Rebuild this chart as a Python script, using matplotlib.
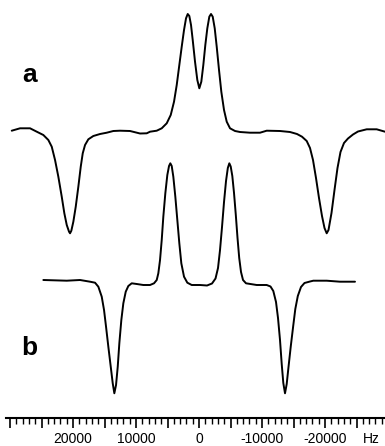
import numpy as np
import matplotlib
matplotlib.use("Agg")
import matplotlib.pyplot as plt
from matplotlib.ticker import FixedLocator, FuncFormatter

plt.rcParams['font.family'] = ['Liberation Sans', 'DejaVu Sans']
plt.rcParams['axes.unicode_minus'] = False

# ---- spectrum a (Hz, intensity in arbitrary units, baseline = 0) ----
a_hz = [29725, 28407, 26820, 25757, 24710, 23916, 23377, 22853, 22330, 21790,
        21377, 20996, 20631, 20472, 20266, 19948, 19568, 19155, 18774, 18457,
        18092, 17568, 16775, 15711, 14648, 13601, 12537, 10950, 9363, 8300,
        7776, 6713, 5920, 5126, 4491, 3968, 3539, 3126, 2746, 2381,
        2063, 1793, 1539, 1270, 1000, 635, 270, -48, -365, -682,
        -1000, -1317, -1635, -1904, -2174, -2492, -2809, -3174, -3539, -3968,
        -4396, -4920, -5713, -6507, -8094, -9681, -10744, -12855, -14442, -15553,
        -16346, -17092, -17616, -18092, -18568, -19044, -19520, -19917, -20266, -20552,
        -21028, -21504, -21980, -22456, -23012, -23646, -24440, -25233, -26614, -28201,
        -29518]
a_int = [-0.7, 1.7, 1.7, -1.7, -5, -10, -16.7, -30, -46.7, -66.7,
         -83.3, -95, -101.7, -103.3, -100.7, -91.7, -76.7, -56.7, -36.7, -23.3,
         -15, -9.3, -6, -4, -2.7, -1, -0.7, -1, -3.5, -3.3,
         -1.7, -0.7, 1.7, 6.7, 15, 28.3, 45, 65, 83.3, 100,
         111.7, 116, 114, 105, 90, 68.3, 50, 41.7, 48.3, 65,
         85, 101.7, 113.3, 116, 113.3, 101.7, 83.3, 60, 38.3, 20,
         8.3, 1.7, -1, -2, -2.7, -2.7, -0.7, -1, -2, -4,
         -6.7, -11, -18, -30, -48, -68, -86, -98, -103.3, -100,
         -83, -60, -38, -22, -13, -8.5, -4.5, -1.5, 0.7, 0.7,
         -1.7]

# ---- spectrum b ----
b_hz = [24710, 20996, 18885, 17298, 16505, 15981, 15442, 15077, 14759, 14394,
        14013, 13696, 13442, 13172, 12902, 12648, 12331, 12014, 11633, 11220,
        10681, 9887, 8840, 7776, 7142, 6713, 6459, 6189, 5920, 5666,
        5348, 5031, 4761, 4555, 4333, 4079, 3761, 3444, 3126, 2809,
        2381, 1857, 1158, -159, -1270, -2063, -2619, -3015, -3333, -3650,
        -3968, -4285, -4571, -4809, -5031, -5285, -5555, -5840, -6110, -6380,
        -6665, -6983, -7459, -9157, -10744, -11347, -11791, -12220, -12537, -12855,
        -13125, -13379, -13648, -13918, -14204, -14569, -14950, -15283, -15680, -16187,
        -16743, -17616, -18140, -20266, -22377, -24757]
b_int = [0, -0.7, 0, -1.7, -2.7, -6.7, -16.7, -30, -46.7, -66.7,
         -86.7, -103.3, -113.3, -105, -86.7, -63.3, -40, -23.3, -11.7, -6,
         -3.3, -4, -5, -5, -3.3, 0, 6.7, 20, 40, 63.3,
         86.7, 105, 114, 116.7, 114, 103.3, 83.3, 60, 36.7, 16.7,
         3.3, -2.7, -5, -5, -5.5, -3.5, 1.5, 12, 30, 53,
         78, 99, 112, 116.7, 113.5, 104, 87, 65, 42, 22,
         8, 0, -3.3, -5, -5, -6.5, -11, -22, -38, -60,
         -84, -103, -113.3, -104, -87, -66, -46, -29, -16, -7,
         -3, -1.5, -0.7, -0.7, -1.7, -1.7]

offset_a = -130
offset_b = -280

# ruler
major_ticks = list(range(30000, -29001, -5000))
minor_ticks = list(range(30000, -29001, -1000))
labeled = [20000, 10000, 0, -10000, -20000]

fig = plt.figure(figsize=(3.85, 4.46), dpi=100)
ax = fig.add_axes([0, 28 / 446, 1, 418 / 446])

line_kw = dict(color='black', lw=1.4, solid_joinstyle='round', solid_capstyle='round')
ax.plot(a_hz, np.array(a_int) + offset_a, **line_kw)
ax.plot(b_hz, np.array(b_int) + offset_b, **line_kw)

ax.set_xlim(31590, -29520)
ax.set_ylim(-418, 0)

for s in ['top', 'left', 'right']:
    ax.spines[s].set_visible(False)
ax.spines['bottom'].set_bounds(30700, -29400)
ax.spines['bottom'].set_linewidth(1.5)
ax.set_yticks([])

ax.xaxis.set_major_locator(FixedLocator(major_ticks))
ax.xaxis.set_minor_locator(FixedLocator(minor_ticks))
ax.xaxis.set_major_formatter(FuncFormatter(lambda v, p: f"{int(v)}" if int(v) in labeled else ""))
ax.tick_params(axis='x', which='major', length=7, width=1.2, direction='out', pad=3, labelsize=10)
ax.tick_params(axis='x', which='minor', length=4, width=1.0, direction='out')

ax.annotate("Hz", xy=(-27300, 0), xycoords=('data', 'axes fraction'),
            xytext=(0, -10), textcoords='offset points', ha='center', va='top', fontsize=10)

ax.text(26820, -82, "a", fontsize=19, fontweight='bold', ha='center', va='baseline')
ax.text(26980, -355, "b", fontsize=19, fontweight='bold', ha='center', va='baseline')

plt.savefig("out.png", dpi=100)
